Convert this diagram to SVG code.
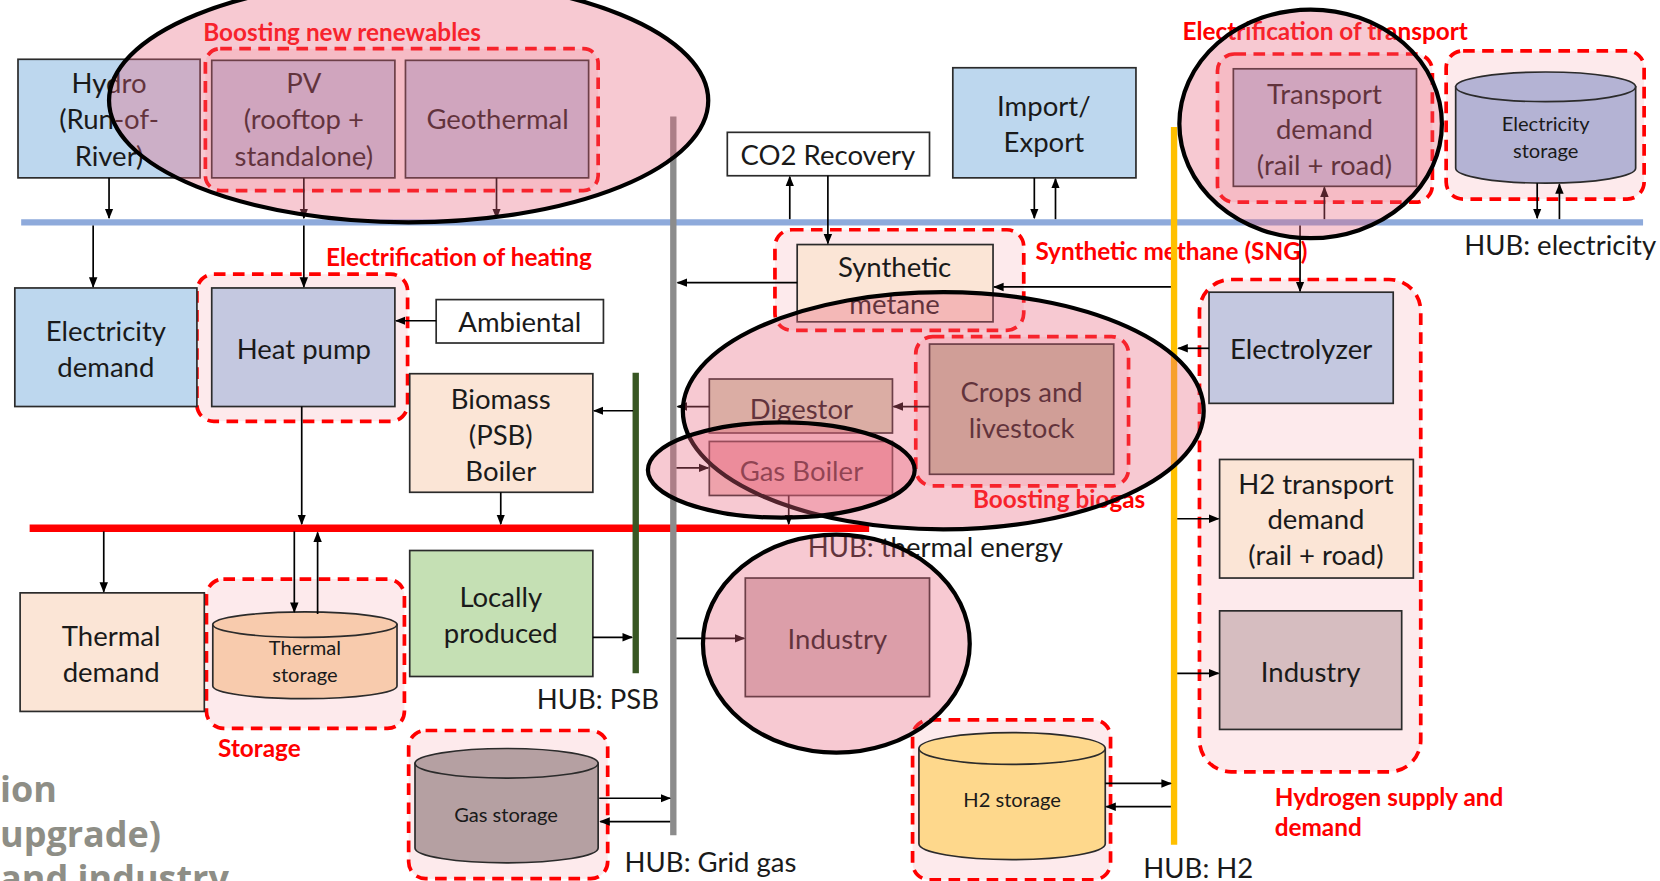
<svg xmlns="http://www.w3.org/2000/svg" width="1660" height="881" viewBox="0 0 1660 881">
<defs>
<marker id="ah" markerWidth="10" markerHeight="10" refX="9" refY="5" orient="auto" markerUnits="userSpaceOnUse">
<path d="M0,1 L10,5 L0,9 Z" fill="#000"/>
</marker>
<style>
.box{stroke:#2b2b2b;stroke-width:1.6}
.blue{fill:#bdd7ee}
.lav{fill:#c4c8e0}
.peach{fill:#fbe5d6}
.green{fill:#c5e0b4}
.white{fill:#fff}
.ind{fill:#d6bdc0}
.t{font-family:Lato,"Liberation Sans",sans-serif;font-size:26px;fill:#1a1a1a;text-anchor:middle;dominant-baseline:central}
.ts{font-size:19px}
.hub{font-family:Lato,"Liberation Sans",sans-serif;font-size:26px;fill:#1a1a1a}
.lbl{font-family:Lato,"Liberation Sans",sans-serif;font-weight:700;font-size:23px;fill:#ff0000}
.grp{fill:#fdeaec;stroke:#ff0000;stroke-width:3.5;stroke-dasharray:11 7}
.hl{fill:#e8637f;fill-opacity:0.35;stroke:#000;stroke-width:4}
.conn{stroke:#000;stroke-width:1.6;fill:none;marker-end:url(#ah)}
.bg{font-family:"Open Sans",sans-serif;font-weight:700;font-size:34px;fill:#8e8e86}
</style>
</defs>
<rect width="1660" height="881" fill="#fff"/>
<g transform="scale(1.058673)">

<g id="background-text">
<text class="bg" x="0" y="758">ion</text>
<text class="bg" x="0" y="800">upgrade)</text>
<text class="bg" x="0" y="842">and industry</text>
</g>

<g id="groups">
<rect id="grp-renewables" class="grp" x="194" y="46" width="371" height="134" rx="14"/>
<text class="lbl" x="192" y="39">Boosting new renewables</text>
<rect id="grp-heating" class="grp" x="186" y="259" width="199" height="139" rx="16"/>
<text class="lbl" x="308" y="251">Electrification of heating</text>
<rect id="grp-storage" class="grp" x="195" y="547" width="187" height="141" rx="16"/>
<text class="lbl" x="206" y="715">Storage</text>
<rect id="grp-gasstorage" class="grp" x="386" y="690" width="188" height="140" rx="16"/>
<rect id="grp-sng" class="grp" x="732" y="217" width="235" height="95" rx="16"/>
<text class="lbl" x="978" y="246">Synthetic methane (SNG)</text>
<rect id="grp-biogas" class="grp" x="865" y="318" width="201" height="141" rx="16"/>
<text class="lbl" x="919" y="480">Boosting biogas</text>
<rect id="grp-transport" class="grp" x="1150" y="51" width="203" height="140" rx="16"/>
<text class="lbl" x="1117" y="38">Electrification of transport</text>
<rect id="grp-elstorage" class="grp" x="1366" y="48" width="187" height="140" rx="16"/>
<rect id="grp-h2storage" class="grp" x="862" y="680" width="187" height="151" rx="16"/>
<rect id="grp-hydrogen" class="grp" x="1133" y="264" width="209" height="465" rx="30"/>
<text class="lbl" x="1204" y="761">Hydrogen supply and</text>
<text class="lbl" x="1204" y="790">demand</text>
</g>

<g id="hubs">
<line x1="20" y1="210" x2="1552" y2="210" stroke="#8eaadb" stroke-width="6"/>
<line x1="28" y1="499" x2="821" y2="499" stroke="#ff0000" stroke-width="7"/>
<line x1="636" y1="110" x2="636" y2="789" stroke="#8c8c8c" stroke-width="6"/>
<line x1="600.5" y1="352" x2="600.5" y2="636" stroke="#385723" stroke-width="6"/>
<line x1="1109" y1="120" x2="1109" y2="798" stroke="#ffc000" stroke-width="6"/>
<text class="hub" x="1383" y="241">HUB: electricity</text>
<text class="hub" x="763" y="526">HUB: thermal energy</text>
<text class="hub" x="507" y="670">HUB: PSB</text>
<text class="hub" x="590" y="824">HUB: Grid gas</text>
<text class="hub" x="1080" y="829">HUB: H2</text>
</g>

<g id="hydro"><rect class="box blue" x="17" y="56" width="172" height="112"/>
<text class="t" x="103" y="78">Hydro</text><text class="t" x="103" y="112">(Run-of-</text><text class="t" x="103" y="147">River)</text></g>
<g id="pv"><rect class="box lav" x="200" y="57" width="173" height="111"/>
<text class="t" x="287" y="78">PV</text><text class="t" x="287" y="112">(rooftop +</text><text class="t" x="287" y="147">standalone)</text></g>
<g id="geothermal"><rect class="box lav" x="383" y="57" width="173" height="111"/>
<text class="t" x="470" y="112">Geothermal</text></g>
<g id="co2-recovery"><rect class="box white" x="687" y="125" width="191" height="41"/>
<text class="t" x="782" y="146">CO2 Recovery</text></g>
<g id="import-export"><rect class="box blue" x="900" y="64" width="173" height="104"/>
<text class="t" x="986" y="100">Import/</text><text class="t" x="986" y="134">Export</text></g>
<g id="transport-demand"><rect class="box lav" x="1165" y="65" width="173" height="111"/>
<text class="t" x="1251" y="88">Transport</text><text class="t" x="1251" y="121">demand</text><text class="t" x="1251" y="155">(rail + road)</text></g>
<g id="electricity-storage">
<path class="box" fill="#b4b3d4" d="M1375,82 V159 A85,14 0 0 0 1545,159 V82 Z"/>
<ellipse class="box" fill="#b4b3d4" cx="1460" cy="82" rx="85" ry="14"/>
<text class="t ts" x="1460" y="116">Electricity</text><text class="t ts" x="1460" y="142">storage</text></g>
<g id="electricity-demand"><rect class="box blue" x="14" y="272" width="172" height="112"/>
<text class="t" x="100" y="312">Electricity</text><text class="t" x="100" y="346">demand</text></g>
<g id="heat-pump"><rect class="box lav" x="200" y="272" width="173" height="112"/>
<text class="t" x="287" y="329">Heat pump</text></g>
<g id="ambiental"><rect class="box white" x="412" y="283" width="158" height="41"/>
<text class="t" x="491" y="304">Ambiental</text></g>
<g id="biomass-boiler"><rect class="box peach" x="387" y="353" width="173" height="112"/>
<text class="t" x="473" y="376">Biomass</text><text class="t" x="473" y="410">(PSB)</text><text class="t" x="473" y="444">Boiler</text></g>
<g id="synthetic-metane"><rect class="box peach" x="753" y="231" width="185" height="73"/>
<text class="t" x="845" y="252">Synthetic</text><text class="t" x="845" y="287">metane</text></g>
<g id="digestor"><rect class="box" fill="#d4d5b8" x="670" y="358" width="173" height="51"/>
<text class="t" x="757" y="386">Digestor</text></g>
<g id="gas-boiler"><rect class="box" fill="#f2c4c4" x="670" y="417" width="173" height="51"/>
<text class="t" x="757" y="444">Gas Boiler</text></g>
<g id="crops-livestock"><rect class="box" fill="#c4bea5" x="878" y="325" width="174" height="123"/>
<text class="t" x="965" y="370">Crops and</text><text class="t" x="965" y="404">livestock</text></g>
<g id="electrolyzer"><rect class="box lav" x="1142" y="276" width="174" height="105"/>
<text class="t" x="1229" y="329">Electrolyzer</text></g>
<g id="h2-transport"><rect class="box peach" x="1152" y="434" width="183" height="112"/>
<text class="t" x="1243" y="457">H2 transport</text><text class="t" x="1243" y="490">demand</text><text class="t" x="1243" y="524">(rail + road)</text></g>
<g id="industry-h2"><rect class="box ind" x="1152" y="577" width="172" height="112"/>
<text class="t" x="1238" y="634">Industry</text></g>
<g id="thermal-demand"><rect class="box peach" x="19" y="560" width="174" height="112"/>
<text class="t" x="105" y="600">Thermal</text><text class="t" x="105" y="634">demand</text></g>
<g id="thermal-storage">
<path class="box" fill="#f8cbad" d="M201,590 V648 A87,12 0 0 0 375,648 V590 Z"/>
<ellipse class="box" fill="#f8cbad" cx="288" cy="590" rx="87" ry="12"/>
<text class="t ts" x="288" y="611">Thermal</text><text class="t ts" x="288" y="637">storage</text></g>
<g id="locally-produced"><rect class="box green" x="387" y="520" width="173" height="119"/>
<text class="t" x="473" y="563">Locally</text><text class="t" x="473" y="597">produced</text></g>
<g id="industry-gas"><rect class="box ind" x="704" y="546" width="174" height="112"/>
<text class="t" x="791" y="603">Industry</text></g>
<g id="gas-storage">
<path class="box" fill="#b5a0a2" d="M392,721 V801 A86.5,14 0 0 0 565,801 V721 Z"/>
<ellipse class="box" fill="#b5a0a2" cx="478.5" cy="721" rx="86.5" ry="14"/>
<text class="t ts" x="478" y="769">Gas storage</text></g>
<g id="h2-storage">
<path class="box" fill="#fed88c" d="M868,707 V797 A88,15 0 0 0 1044,797 V707 Z"/>
<ellipse class="box" fill="#fed88c" cx="956" cy="707" rx="88" ry="15"/>
<text class="t ts" x="956" y="755">H2 storage</text></g>

<g id="connectors">
<path class="conn" d="M103,168 V206"/>
<path class="conn" d="M287,168 V206"/>
<path class="conn" d="M469,168 V206"/>
<path class="conn" d="M88,213 V271"/>
<path class="conn" d="M287,213 V271"/>
<path class="conn" d="M412,303 H374"/>
<path class="conn" d="M285,384 V495"/>
<path class="conn" d="M473,465 V495"/>
<path class="conn" d="M598,388 H561"/>
<path class="conn" d="M98,502 V559"/>
<path class="conn" d="M278,502 V578"/>
<path class="conn" d="M300,580 V503"/>
<path class="conn" d="M560,602 H597"/>
<path class="conn" d="M566,754 H633"/>
<path class="conn" d="M633,776 H567"/>
<path class="conn" d="M753,267 H640"/>
<path class="conn" d="M670,384 H640"/>
<path class="conn" d="M639,442 H669"/>
<path class="conn" d="M878,384 H844"/>
<path class="conn" d="M745,468 V495"/>
<path class="conn" d="M639,603 H703"/>
<path class="conn" d="M746,207 V167"/>
<path class="conn" d="M782,166 V230"/>
<path class="conn" d="M977,168 V206"/>
<path class="conn" d="M997,207 V169"/>
<path class="conn" d="M1106,271 H939"/>
<path class="conn" d="M1251,207 V177"/>
<path class="conn" d="M1228,213 V275"/>
<path class="conn" d="M1142,329 H1113"/>
<path class="conn" d="M1112,490 H1151"/>
<path class="conn" d="M1112,636 H1151"/>
<path class="conn" d="M1044,740 H1106"/>
<path class="conn" d="M1106,762 H1045"/>
<path class="conn" d="M1452,173 V206"/>
<path class="conn" d="M1473,207 V174"/>
</g>

<g id="highlights">
<ellipse class="hl" cx="386" cy="95" rx="283" ry="115"/>
<ellipse class="hl" cx="1238" cy="117" rx="124" ry="108"/>
<ellipse class="hl" cx="891" cy="388" rx="246" ry="112"/>
<ellipse class="hl" cx="738" cy="444" rx="126" ry="45"/>
<ellipse class="hl" cx="790" cy="608" rx="126" ry="103"/>
</g>
</g>
</svg>
